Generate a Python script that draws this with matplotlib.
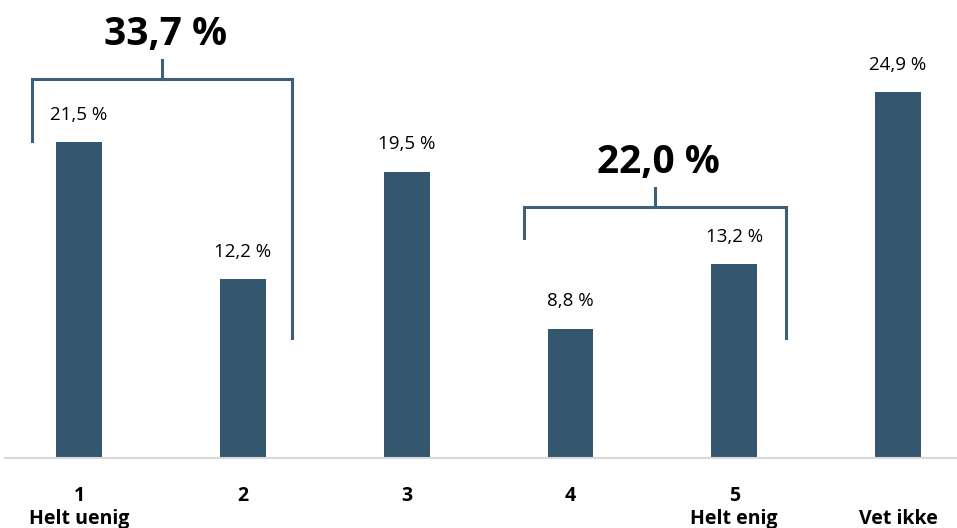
import numpy as np
import matplotlib.pyplot as plt

plt.rcParams['font.family'] = ['Open Sans', 'DejaVu Sans']

categories = ['1\nHelt uenig', '2', '3', '4', '5\nHelt enig', '\nVet ikke']
values = [21.5, 12.2, 19.5, 8.8, 13.2, 24.9]
group_labels = ['33,7 %', '22,0 %']

bar_color = '#34566f'
line_color = '#3f5f78'

fig = plt.figure(figsize=(9.57, 5.28), dpi=100)
ax = fig.add_axes([5 / 957, 70 / 528, 952 / 957, 458 / 528])

x = np.arange(len(values))
bars = ax.bar(x, values, width=0.28, color=bar_color)

for xi, v in zip(x, values):
    ax.text(xi, v + 1.25, f'{v:.1f} %'.replace('.', ','), ha='center', va='bottom',
            fontsize=13.5, color='black')

ax.set_xlim(-0.452, 5.36)
ax.set_ylim(0, 31.2)


def bracket(x0, x1, y, y_left, y_right, stem, label):
    xm = (x0 + x1) / 2
    ax.plot([x0, x0, x1, x1], [y_left, y, y, y_right], color=line_color, lw=2.2,
            solid_joinstyle='miter', clip_on=False)
    ax.plot([xm, xm], [y, y + stem], color=line_color, lw=2.2, clip_on=False)
    ax.text(xm + 0.02, y + stem + 0.45, label, ha='center', va='bottom',
            fontsize=28, fontweight='bold', color='black', clip_on=False)


bracket(-0.287, 1.30, 25.85, 21.6, 8.2, 1.25, group_labels[0])
bracket(2.717, 4.316, 17.07, 15.0, 8.16, 1.3, group_labels[1])

ax.set_xticks(x)
ax.set_xticklabels(categories, fontsize=14, fontweight='bold', va='top', linespacing=1.2)
ax.tick_params(axis='x', length=0, pad=20)
ax.set_yticks([])
for side in ['top', 'right', 'left']:
    ax.spines[side].set_visible(False)
ax.spines['bottom'].set_color('#d9d9d9')
ax.spines['bottom'].set_linewidth(1.5)

fig.savefig('out.png', dpi=100)
